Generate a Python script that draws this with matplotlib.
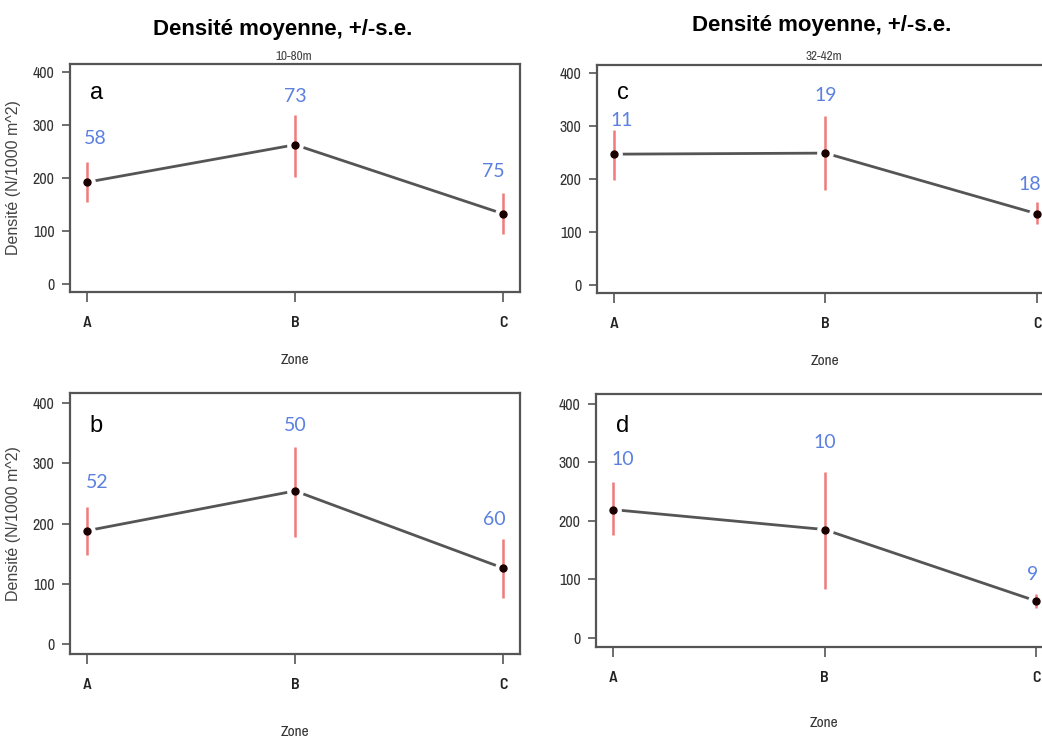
import numpy as np
import matplotlib.pyplot as plt

zones = ['A', 'B', 'C']

# mean density and +/- s.e. bounds per panel (N/1000 m^2)
mean_a = [192, 263, 132]
low_a = [154, 201, 93]
high_a = [230, 320, 171]
n_a = [58, 73, 75]

mean_b = [188, 254, 126]
low_b = [148, 178, 76]
high_b = [228, 327, 174]
n_b = [52, 50, 60]

mean_c = [247, 249, 134]
low_c = [198, 180, 114]
high_c = [293, 319, 156]
n_c = [11, 19, 18]

mean_d = [219, 185, 63]
low_d = [175, 84, 51]
high_d = [266, 284, 75]
n_d = [10, 10, 9]

yticks = [0, 100, 200, 300, 400]

narrow = ['Archivo Narrow', 'DejaVu Sans']
gray = '#555555'
red = '#f07a7a'
blue = '#5b80e0'

fig = plt.figure(figsize=(10.42, 7.4), dpi=100)

# axes rectangles in figure fraction
ax_a = fig.add_axes([0.0672, 0.6054, 0.4319, 0.3081])
ax_c = fig.add_axes([0.5729, 0.6041, 0.4386, 0.3081])
ax_b = fig.add_axes([0.0672, 0.1162, 0.4319, 0.3527])
ax_d = fig.add_axes([0.5720, 0.1253, 0.4386, 0.3420])

panels = [
    (ax_a, 'a', mean_a, low_a, high_a, n_a, [(0.04, 275), (0, 355), (-0.05, 212)], True),
    (ax_b, 'b', mean_b, low_b, high_b, n_b, [(0.05, 268), (0, 363), (-0.045, 207)], True),
    (ax_c, 'c', mean_c, low_c, high_c, n_c, [(0.035, 311), (0, 358), (-0.035, 190)], False),
    (ax_d, 'd', mean_d, low_d, high_d, n_d, [(0.045, 304), (0, 333), (-0.015, 108)], False),
]

for ax, letter, m, lo, hi, n, lab_pos, ylab in panels:
    x = np.arange(len(zones))
    ax.plot(x, m, color=gray, lw=2, zorder=2)
    # white halo gives the R type="b" gap round each point
    ax.plot(x, m, 'o', ms=11, color='white', zorder=3)
    ax.vlines(x, lo, hi, color=red, lw=1.8, zorder=4)
    ax.plot(x, m, 'o', ms=5, color='#1a0000', zorder=5)

    for i, (dx, yy) in enumerate(lab_pos):
        ax.text(x[i] + dx, yy, str(n[i]), color=blue, fontsize=14,
                ha='center', va='center', family=['Lato', 'DejaVu Sans'])
    ax.text(0.045, 362, letter, fontsize=17, ha='center', va='center',
            family=['Liberation Sans', 'DejaVu Sans'])

    ax.set_xlim(-0.08, 2.08)
    ax.set_ylim(-16, 416)
    ax.set_xticks(x)
    ax.set_xticklabels(zones, fontsize=11.5, family=['Barlow Semi Condensed', 'DejaVu Sans'],
                       fontweight=600, color='#222222')
    ax.set_yticks(yticks)
    ax.set_yticklabels([str(v) for v in yticks], fontsize=11.5, family=narrow, color='#333333')
    ax.tick_params(axis='x', length=7, width=1.2, color=gray, pad=10)
    ax.tick_params(axis='y', length=6, width=1.2, color=gray, pad=5)
    for sp in ax.spines.values():
        sp.set_color(gray)
        sp.set_linewidth(1.6)
    ax.text(0.5, -0.30, 'Zone', transform=ax.transAxes, ha='center', va='center',
            fontsize=11, family=narrow, color='#333333')
    if ylab:
        ax.set_ylabel('Densité (N/1000 m^2)', fontsize=11.5, color='#444444',
                      family=['Liberation Sans', 'DejaVu Sans'])
        ax.yaxis.set_label_coords(-0.11, 0.5)

title_font = ['Liberation Sans', 'DejaVu Sans']
fig.text(283 / 1042, 1 - 30 / 740, 'Densité moyenne, +/-s.e.', fontsize=16,
         fontweight='bold', ha='center', va='center', family=title_font)
fig.text(822 / 1042, 1 - 25 / 740, 'Densité moyenne, +/-s.e.', fontsize=16,
         fontweight='bold', ha='center', va='center', family=title_font)
fig.text(294 / 1042, 1 - 56 / 740, '10-80m', fontsize=9.5, family=narrow,
         color='#444444', ha='center', va='center')
fig.text(824 / 1042, 1 - 57 / 740, '32-42m', fontsize=9.5, family=narrow,
         color='#444444', ha='center', va='center')

fig.savefig('out.png', dpi=100)
